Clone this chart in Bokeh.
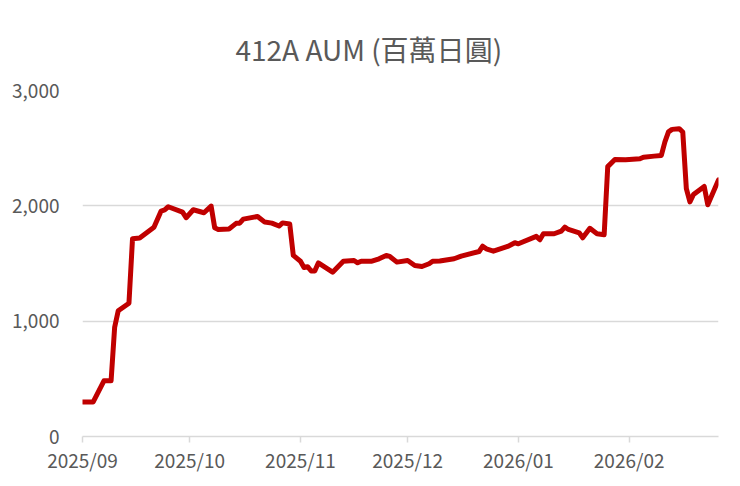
import pandas as pd
from bokeh.plotting import figure
from bokeh.models import (Range1d, FixedTicker, MonthsTicker, DatetimeTickFormatter,
                          NumeralTickFormatter, ColumnDataSource)
from bokeh.embed import file_html
from bokeh.resources import INLINE

TITLE = "412A AUM (百萬日圓)"

dates = [
    "2025-09-01", "2025-09-04", "2025-09-07", "2025-09-09", "2025-09-10", "2025-09-11",
    "2025-09-14", "2025-09-15", "2025-09-17", "2025-09-21", "2025-09-23", "2025-09-24",
    "2025-09-25", "2025-09-29", "2025-09-30", "2025-10-02", "2025-10-05", "2025-10-07",
    "2025-10-08", "2025-10-09", "2025-10-12", "2025-10-14", "2025-10-15", "2025-10-16",
    "2025-10-20", "2025-10-22", "2025-10-24", "2025-10-26", "2025-10-27", "2025-10-29",
    "2025-10-30", "2025-11-01", "2025-11-02", "2025-11-03", "2025-11-04", "2025-11-05",
    "2025-11-06", "2025-11-10", "2025-11-13", "2025-11-16", "2025-11-17", "2025-11-18",
    "2025-11-21", "2025-11-23", "2025-11-25", "2025-11-26", "2025-11-28", "2025-12-01",
    "2025-12-03", "2025-12-05", "2025-12-07", "2025-12-08", "2025-12-10", "2025-12-14",
    "2025-12-16", "2025-12-21", "2025-12-22", "2025-12-23", "2025-12-25", "2025-12-29",
    "2025-12-31", "2026-01-01", "2026-01-06", "2026-01-07", "2026-01-08", "2026-01-11",
    "2026-01-13", "2026-01-14", "2026-01-15", "2026-01-18", "2026-01-19", "2026-01-21",
    "2026-01-23", "2026-01-25", "2026-01-26", "2026-01-28", "2026-01-31", "2026-02-04",
    "2026-02-05", "2026-02-08", "2026-02-10", "2026-02-11", "2026-02-12", "2026-02-13",
    "2026-02-15", "2026-02-16", "2026-02-17", "2026-02-18", "2026-02-19", "2026-02-22",
    "2026-02-23", "2026-02-26",
]

aum = [
    300, 300, 483, 483, 948, 1090,
    1156, 1715, 1722, 1815, 1955, 1965,
    1992, 1945, 1897, 1966, 1940, 1998,
    1810, 1795, 1800, 1848, 1850, 1885,
    1908, 1859, 1850, 1825, 1852, 1842,
    1570, 1520, 1465, 1472, 1435, 1435,
    1505, 1425, 1520, 1526, 1506, 1520,
    1520, 1541, 1570, 1561, 1512, 1526,
    1483, 1474, 1498, 1520, 1522, 1541,
    1564, 1604, 1650, 1627, 1607, 1648,
    1680, 1671, 1735, 1706, 1758, 1758,
    1781, 1815, 1795, 1766, 1723, 1805,
    1758, 1750, 2340, 2402, 2400, 2408,
    2422, 2431, 2437, 2554, 2641, 2663,
    2669, 2640, 2150, 2034, 2098, 2168,
    2009, 2225,
]

y_ticks = [0, 1000, 2000, 3000]
x_start = "2025-09-01"
x_end = "2026-02-26"

FONT = "Noto Sans CJK TC"
GREY = "#595959"
GRID = "#d9d9d9"

src = ColumnDataSource(dict(date=pd.to_datetime(dates), aum=aum))

p = figure(width=740, height=486, x_axis_type="datetime",
           output_backend="svg", toolbar_location=None,
           x_range=Range1d(pd.Timestamp(x_start), pd.Timestamp(x_end)),
           y_range=Range1d(0, 3000),
           min_border_left=82, min_border_right=22,
           min_border_top=90, min_border_bottom=50)
p.outline_line_color = None
p.background_fill_color = "white"
p.border_fill_color = "white"

p.title.text = TITLE
p.title.align = "left"
p.title.text_font = FONT
p.title.text_font_size = "28px"
p.title.text_font_style = "normal"
p.title.text_color = GREY
p.title.standoff = 44
p.title.offset = 153

p.line(x="date", y="aum", source=src, line_color="#C00000", line_width=5,
       line_join="round", line_cap="round")

p.xgrid.grid_line_color = None
p.ygrid.grid_line_color = GRID
p.ygrid.grid_line_width = 1.5
p.ygrid.ticker = FixedTicker(ticks=y_ticks)

xa = p.xaxis[0]
xa.ticker = MonthsTicker(months=list(range(1, 13)))
xa.formatter = DatetimeTickFormatter(months="%Y/%m", days="%Y/%m")
xa.axis_line_color = GRID
xa.axis_line_width = 1.5
xa.major_tick_line_color = GRID
xa.major_tick_line_width = 1.5
xa.major_tick_in = 0
xa.major_tick_out = 6
xa.minor_tick_line_color = None
xa.major_label_text_font = FONT
xa.major_label_text_font_size = "19px"
xa.major_label_text_color = GREY
xa.major_label_standoff = 3

ya = p.yaxis[0]
ya.ticker = FixedTicker(ticks=y_ticks)
ya.formatter = NumeralTickFormatter(format="0,0")
ya.axis_line_color = None
ya.major_tick_line_color = None
ya.minor_tick_line_color = None
ya.major_tick_in = 0
ya.major_tick_out = 0
ya.major_label_text_font = FONT
ya.major_label_text_font_size = "19px"
ya.major_label_text_color = GREY
ya.major_label_standoff = 23

open("out.html", "w").write(file_html(p, INLINE))
